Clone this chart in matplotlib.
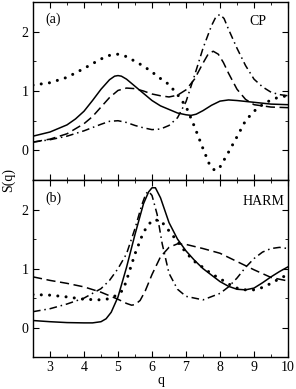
import numpy as np
import matplotlib
matplotlib.use("Agg")
import matplotlib.pyplot as plt
from matplotlib.ticker import MultipleLocator

plt.rcParams['font.family'] = ['Liberation Serif', 'DejaVu Serif']
plt.rcParams['font.size'] = 10

# ---- panel (a): CP ----
qa_solid = [2.5, 3.0, 3.5, 3.75, 4.0, 4.25, 4.5, 4.75, 4.9, 5.0, 5.1, 5.25, 5.5, 5.75, 6.0, 6.25, 6.5, 6.75,
            7.0, 7.15, 7.3, 7.5, 7.75, 8.0, 8.25, 8.5, 9.0, 9.5, 10.0]
sa_solid = [0.24, 0.31, 0.43, 0.53, 0.66, 0.84, 1.03, 1.19, 1.25, 1.26, 1.25, 1.20, 1.08, 0.96, 0.84, 0.75, 0.69, 0.63,
            0.60, 0.59, 0.61, 0.67, 0.76, 0.83, 0.85, 0.84, 0.81, 0.78, 0.77]

qa_dash = [2.5, 3.0, 3.5, 4.0, 4.25, 4.5, 4.75, 5.0, 5.25, 5.5, 5.75, 6.0, 6.25, 6.5, 6.75,
           7.0, 7.25, 7.5, 7.65, 7.8, 7.95, 8.1, 8.25, 8.5, 8.75, 9.0, 9.5, 10.0]
sa_dash = [0.14, 0.19, 0.28, 0.45, 0.57, 0.73, 0.89, 1.01, 1.05, 1.04, 1.00, 0.95, 0.92, 0.90, 0.93,
           1.02, 1.20, 1.47, 1.62, 1.67, 1.62, 1.48, 1.30, 1.03, 0.86, 0.77, 0.73, 0.72]

qa_dd = [2.5, 3.0, 3.5, 4.0, 4.5, 4.75, 5.0, 5.25, 5.5, 5.75, 6.0, 6.25, 6.5, 6.75, 7.0,
         7.25, 7.5, 7.75, 7.88, 8.0, 8.12, 8.25, 8.5, 8.75, 9.0, 9.25, 9.5, 9.75, 10.0]
sa_dd = [0.14, 0.18, 0.24, 0.33, 0.44, 0.49, 0.50, 0.47, 0.42, 0.38, 0.35, 0.36, 0.42, 0.55, 0.82,
         1.26, 1.72, 2.10, 2.25, 2.29, 2.22, 2.04, 1.72, 1.43, 1.20, 1.07, 0.98, 0.94, 0.92]

qa_dot = [2.5, 3.0, 3.5, 4.0, 4.5, 4.75, 5.0, 5.25, 5.5, 5.75, 6.0, 6.25, 6.5, 6.75, 7.0,
          7.25, 7.5, 7.7, 7.85, 8.0, 8.25, 8.5, 8.75, 9.0, 9.25, 9.5, 9.75, 10.0]
sa_dot = [1.10, 1.14, 1.23, 1.38, 1.54, 1.60, 1.62, 1.58, 1.50, 1.42, 1.32, 1.21, 1.11, 0.94, 0.74,
          0.40, 0.03, -0.25, -0.34, -0.28, -0.03, 0.23, 0.50, 0.66, 0.77, 0.85, 0.90, 0.92]

# ---- panel (b): HARM ----
qb_solid = [2.5, 3.0, 3.5, 4.0, 4.25, 4.5, 4.65, 4.8, 5.0, 5.25, 5.5, 5.75, 5.9, 6.0, 6.1, 6.25, 6.5, 6.75,
            7.0, 7.25, 7.5, 7.75, 8.0, 8.25, 8.5, 8.75, 9.0, 9.25, 9.5, 9.75, 10.0]
sb_solid = [0.12, 0.10, 0.085, 0.08, 0.08, 0.10, 0.15, 0.26, 0.52, 1.02, 1.58, 2.10, 2.30, 2.37, 2.37, 2.20, 1.78, 1.50,
            1.30, 1.14, 1.00, 0.89, 0.78, 0.70, 0.65, 0.64, 0.67, 0.76, 0.86, 0.95, 1.03]

qb_dash = [2.5, 3.0, 3.5, 4.0, 4.5, 4.75, 5.0, 5.25, 5.4, 5.5, 5.65, 5.8, 6.0, 6.25, 6.5, 6.75,
           7.0, 7.5, 8.0, 8.5, 9.0, 9.5, 10.0]
sb_dash = [0.86, 0.80, 0.75, 0.69, 0.60, 0.54, 0.48, 0.41, 0.38, 0.39, 0.46, 0.62, 0.90, 1.20, 1.36, 1.42,
           1.41, 1.34, 1.26, 1.12, 0.98, 0.85, 0.79]

qb_dd = [2.5, 3.0, 3.5, 4.0, 4.5, 4.75, 5.0, 5.25, 5.5, 5.7, 5.82, 5.9, 6.0, 6.15, 6.3, 6.5, 6.75,
         7.0, 7.5, 8.0, 8.25, 8.5, 8.75, 9.0, 9.25, 9.5, 9.75, 10.0]
sb_dd = [0.27, 0.32, 0.40, 0.50, 0.66, 0.80, 1.00, 1.25, 1.68, 2.08, 2.27, 2.31, 2.24, 1.92, 1.42, 0.92, 0.65,
         0.53, 0.47, 0.58, 0.69, 0.84, 1.02, 1.17, 1.28, 1.34, 1.36, 1.34]

qb_dot = [2.5, 3.0, 3.5, 4.0, 4.5, 4.75, 5.0, 5.15, 5.25, 5.5, 5.75, 6.0, 6.25, 6.5, 6.75,
          7.0, 7.25, 7.5, 7.75, 8.0, 8.25, 8.5, 8.75, 9.0, 9.25, 9.5, 9.75, 10.0]
sb_dot = [0.56, 0.55, 0.52, 0.48, 0.47, 0.49, 0.56, 0.64, 0.80, 1.25, 1.62, 1.82, 1.82, 1.64, 1.46,
          1.27, 1.12, 1.02, 0.91, 0.83, 0.74, 0.67, 0.64, 0.64, 0.68, 0.75, 0.83, 0.90]

fig = plt.figure(figsize=(2.96, 3.89), dpi=100)
ax1 = fig.add_axes([0.1115, 0.537, 0.8615, 0.458])
ax2 = fig.add_axes([0.1115, 0.082, 0.8615, 0.455], sharex=ax1)

lw = 1.1
dash = (0, (6, 3))
dashdot = (0, (5, 2.5, 1, 2.5))
dotted = (0, (0.01, 2.7))

def draw(ax, s, d, dd, dt):
    ax.plot(*s, color="black", lw=lw)
    ax.plot(*d, color="black", lw=lw, linestyle=dash)
    ax.plot(*dd, color="black", lw=lw, linestyle=dashdot)
    ax.plot(*dt, color="black", lw=2.2, linestyle=dotted, dash_capstyle="round")

draw(ax1, (qa_solid, sa_solid), (qa_dash, sa_dash), (qa_dd, sa_dd), (qa_dot, sa_dot))
draw(ax2, (qb_solid, sb_solid), (qb_dash, sb_dash), (qb_dd, sb_dd), (qb_dot, sb_dot))

for ax in (ax1, ax2):
    ax.set_xlim(2.5, 10)
    ax.set_ylim(-0.5, 2.5)
    ax.xaxis.set_major_locator(MultipleLocator(1))
    ax.xaxis.set_minor_locator(MultipleLocator(0.5))
    ax.yaxis.set_major_locator(MultipleLocator(1))
    ax.yaxis.set_minor_locator(MultipleLocator(0.5))
    ax.tick_params(which="both", direction="in", top=True, right=True, labelsize=10, pad=3)
    ax.tick_params(which="major", length=4)
    ax.tick_params(which="minor", length=2.5)
    for sp in ax.spines.values():
        sp.set_linewidth(1.0)

ax1.tick_params(labelbottom=False)
ax1.text(0.05, 0.88, "(a)", transform=ax1.transAxes, fontsize=10)
ax1.text(0.85, 0.87, "CP", transform=ax1.transAxes, fontsize=10)
ax2.text(0.05, 0.88, "(b)", transform=ax2.transAxes, fontsize=10)
ax2.text(0.82, 0.86, "HARM", transform=ax2.transAxes, fontsize=10)

ax2.set_xlabel("q", labelpad=0)
fig.text(0.027, 0.537, "S(q)", rotation=90, va="center", ha="center", fontsize=10)

fig.savefig("out.png", dpi=100)
